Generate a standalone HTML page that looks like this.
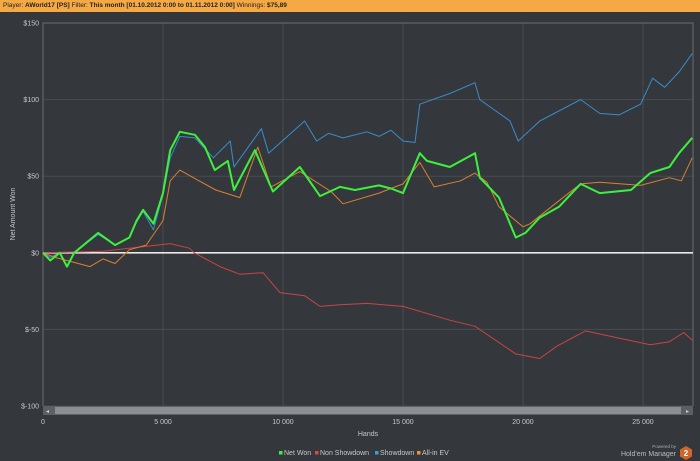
<!DOCTYPE html>
<html><head><meta charset="utf-8"><style>
body{margin:0;width:700px;height:461px;background:#34383c;overflow:hidden;font-family:"Liberation Sans",sans-serif;}
#hdr{position:absolute;left:0;top:0;width:700px;height:12px;background:#f5a944;font-size:6.5px;line-height:12px;color:#222;padding-left:3px;box-sizing:border-box;}
svg{position:absolute;left:0;top:0}
</style></head><body>
<div id="hdr">Player: <b>AWorld17 [PS]</b> Filter: <b>This month [01.10.2012 0:00 to 01.11.2012 0:00]</b> Winnings: <b>$75,89</b></div>
<svg id="chart" width="700" height="461"></svg>
<script>
const yTicks=[150,100,50,0,-50,-100];
const yTickLabels=["$150","$100","$50","$0","$-50","$-100"];
const xTicks=[0,5000,10000,15000,20000,25000];
const xTickLabels=["0","5 000","10 000","15 000","20 000","25 000"];
const greenHands=[0,300,700,1000,1300,2300,3000,3600,3900,4170,4600,5000,5300,5700,6330,6750,7160,7700,7960,8830,9580,10700,11540,12370,13000,14000,14500,15000,15700,16000,16950,18000,18200,19000,19700,20100,20700,21500,22400,23200,24500,25300,26100,26500,27050];
const greenVals=[0,-5,0,-9,0,13,5,10,21,28,19,39,67,79,77,69,54,60,41,67,40,56,37,43,41,44,42,39,65,60,56,65,49,36,10,13,23,30,45,39,41,52,56,65,75];
const blueHands=[0,300,700,1000,1300,2300,3000,3600,3900,4170,4600,5000,5300,5700,6330,7100,7800,7960,9100,9400,10900,11400,11900,12500,13500,14000,14500,15000,15500,15700,16950,18000,18200,19460,19800,20700,22400,23200,24000,24900,25400,25900,26500,27050];
const blueVals=[0,-3,0,-9,0,12,5,10,20,27,15,38,62,76,75,62,73,56,81,65,86,73,78,75,79,76,80,73,72,97,104,111,100,86,73,86,100,91,90,97,114,108,118,130];
const orangeHands=[0,500,1000,1960,2500,3000,3600,4300,5000,5300,5700,6500,7200,8200,8950,9500,10700,12000,12500,14000,15000,15700,16300,17400,18000,18500,19000,20000,20300,21500,22400,23200,24900,26100,26600,27050];
const orangeVals=[0,-3,-5,-9,-4,-7,2,5,21,47,54,47,41,36,69,43,53,40,32,39,45,59,43,47,52,46,30,17,19,34,45,46,44,49,47,62];
const redHands=[0,2500,3600,5300,6100,6300,7370,8200,9170,9870,10900,11540,12300,13500,15000,16950,18000,19700,20700,21400,22600,23800,25300,26100,26700,27050];
const redVals=[0,1,3,6,3,0,-9,-14,-13,-26,-28,-35,-34,-33,-35,-44,-48,-66,-69,-61,-51,-55,-60,-58,-52,-57];

const L=43,R=693,T=23,B=406;
const X=h=>L+h*(120/5000);
const Y=v=>T+(150-v)*(B-T)/250;
const svg=document.getElementById('chart');
const NS='http://www.w3.org/2000/svg';
function mk(tag,attrs,parent){const e=document.createElementNS(NS,tag);for(const k in attrs)e.setAttribute(k,attrs[k]);(parent||svg).appendChild(e);return e;}
let e;
yTicks.forEach((v,i)=>{
  e=mk('line',{x1:L,x2:R,y1:Y(v),y2:Y(v),stroke:'#484c50','stroke-width':1});
  
  
  e=mk('text',{x:39,y:Y(v)+2.5,'text-anchor':'end','font-size':7,fill:'#c8c8c8'});e.textContent=yTickLabels[i];
  
  
});
xTicks.forEach((h,i)=>{
  e=mk('line',{x1:X(h),x2:X(h),y1:T,y2:B,stroke:'#484c50','stroke-width':1});
  
  
  e=mk('text',{x:X(h),y:424,'text-anchor':'middle','font-size':7,fill:'#c8c8c8'});e.textContent=xTickLabels[i];
  
  
});
e=mk('path',{d:`M${L},${B}V${T}H${R}V${B}`,fill:'none',stroke:'#6a6e72','stroke-width':1});


e=mk('line',{x1:L,x2:R,y1:Y(0),y2:Y(0),stroke:'#e8e8e8','stroke-width':1.6});


function series(h,v,color,w,name){
  const d=h.map((x,i)=>(i?'L':'M')+X(x).toFixed(1)+','+Y(v[i]).toFixed(1)).join('');
  const p=mk('path',{d:d,fill:'none',stroke:color,'stroke-width':w,'stroke-linejoin':'round'});
  
  
}
series(redHands,redVals,'#c84444',1,'non-showdown-line');
series(blueHands,blueVals,'#3a8ccc',1,'showdown-line');
series(orangeHands,orangeVals,'#d8822e',1,'all-in-ev-line');
series(greenHands,greenVals,'#3ef03e',2,'net-won-line');
// scrollbar
e=mk('rect',{x:L,y:406,width:R-L,height:9,fill:'#5c6064'});


e=mk('rect',{x:L+12,y:407,width:R-L-24,height:7,fill:'#8c8f92'});


e=mk('text',{x:L+3,y:413,'font-size':6,fill:'#ccc'});e.textContent='◂';


e=mk('text',{x:R-7,y:413,'font-size':6,fill:'#ccc'});e.textContent='▸';


e=mk('text',{x:368,y:436,'text-anchor':'middle','font-size':7,fill:'#c8c8c8'});e.textContent='Hands';


e=mk('text',{x:0,y:0,'text-anchor':'middle','font-size':7,fill:'#c8c8c8',transform:'translate(15,214) rotate(-90)'});e.textContent='Net Amount Won';


const legNames=['Net Won','Non Showdown','Showdown','All-in EV'];
const legColors=['#3ef03e','#e04444','#3a9ae0','#f0922e'];
const legX=[279,315,375,417];
legNames.forEach((n,i)=>{
  const g=mk('g',{});
  
  
  mk('rect',{x:legX[i],y:451,width:3.5,height:3.5,fill:legColors[i]},g);
  const t=mk('text',{x:legX[i]+5,y:455,'font-size':7,fill:'#c8c8c8'},g);t.textContent=n;
});
e=mk('text',{x:676,y:448,'text-anchor':'end','font-size':4.5,fill:'#aaa'});e.textContent='Powered by';


e=mk('text',{x:676,y:456,'text-anchor':'end','font-size':7,fill:'#bbb'});e.textContent="Hold'em Manager";


e=mk('polygon',{points:'686,446 692,449.5 692,456.5 686,460 680,456.5 680,449.5',fill:'#d0652a'});


e=mk('text',{x:686,y:456,'text-anchor':'middle','font-size':8,'font-weight':'bold',fill:'#fff'});e.textContent='2';


</script>
</body></html>
